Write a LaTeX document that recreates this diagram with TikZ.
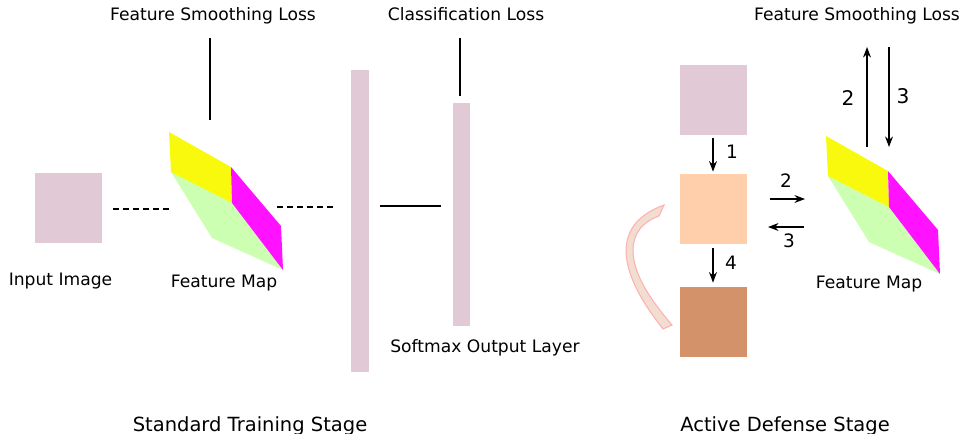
\documentclass[tikz,border=0pt]{standalone}
\usepackage{fontspec}
\setmainfont{DejaVu Sans}
\usetikzlibrary{arrows.meta}

\definecolor{imgpink}{HTML}{E1C9D6}
\definecolor{peach}{HTML}{FFCFAB}
\definecolor{clay}{HTML}{D4926A}
\definecolor{fmyellow}{HTML}{F9F90E}
\definecolor{fmmagenta}{HTML}{FF12FF}
\definecolor{fmgreen}{HTML}{CCFFB2}
\definecolor{swfill}{HTML}{F2DDD0}
\definecolor{swedge}{HTML}{FFB0B0}

\tikzset{
  lbl/.style={font=\fontsize{9.75}{11}\selectfont, anchor=base, inner sep=0},
  num/.style={font=\fontsize{10.5}{12}\selectfont, inner sep=0},
  bignum/.style={font=\fontsize{11.5}{13}\selectfont, inner sep=0},
  stage/.style={font=\fontsize{11.1}{13}\selectfont, anchor=base, inner sep=0},
  sq/.style={minimum width=1.34cm, minimum height=1.4cm, inner sep=0},
  arr/.style={-{Stealth[length=6pt,width=4.5pt]}, line width=0.7pt},
  ln/.style={line width=0.7pt},
  dsh/.style={line width=0.7pt, dash pattern=on 3.4pt off 2.3pt},
}

\begin{document}
\begin{tikzpicture}[x=0.02cm, y=-0.02cm]
    \useasboundingbox (0,0) rectangle (963,433);

    \foreach \n/\dx/\dy in {L/0/0, R/657/4}{
      \begin{scope}[shift={(\dx,\dy)}]
        \coordinate (fm\n-a) at (169,132);
        \coordinate (fm\n-b) at (231,167);
        \coordinate (fm\n-c) at (232,203);
        \coordinate (fm\n-d) at (171,172);
        \coordinate (fm\n-e) at (281,226);
        \coordinate (fm\n-f) at (283,270);
        \coordinate (fm\n-g) at (212,238);
        \fill[fmgreen] (fm\n-d) -- (fm\n-c) -- (fm\n-f) -- (fm\n-g) -- cycle;
        \fill[fmyellow] (fm\n-a) -- (fm\n-b) -- (fm\n-c) -- (fm\n-d) -- cycle;
        \fill[fmmagenta] (fm\n-b) -- (fm\n-e) -- (fm\n-f) -- (fm\n-c) -- cycle;
      \end{scope}
    }

    \node[sq, fill=imgpink] (input) at (68.5,208) {};
    \node[lbl] (inputlbl) at (60.5,285) {Input Image};
    \node[lbl] (fmLlbl) at (224,287.5) {Feature Map};
    \node[lbl] (fslL) at (213,20) {Feature Smoothing Loss};
    \node[lbl] (cls) at (466,20) {Classification Loss};
    \node[lbl] (softlbl) at (485,352) {Softmax Output Layer};
    \node[stage] (stageA) at (250,431) {Standard Training Stage};

    \node[fill=imgpink, minimum width=0.36cm, minimum height=6.04cm, inner sep=0] (fc) at (360,221) {};
    \node[fill=imgpink, minimum width=0.34cm, minimum height=4.46cm, inner sep=0] (soft) at (461.5,214.5) {};

    \coordinate (d1a) at (113,209);
    \coordinate (d1b) at (172,209);
    \coordinate (d2a) at (277,207);
    \coordinate (d2b) at (337,207);
    \coordinate (s1a) at (380,206);
    \coordinate (s1b) at (441,206);
    \coordinate (fslLa) at (210,38);
    \coordinate (fslLb) at (210,120);
    \coordinate (clsa) at (460,38);
    \coordinate (clsb) at (460,96);

    \draw[dsh] (d1a) -- (d1b);
    \draw[dsh] (d2a) -- (d2b);
    \draw[ln] (s1a) -- (s1b);
    \draw[ln] (fslLa) -- (fslLb);
    \draw[ln] (clsa) -- (clsb);

    \node[sq, fill=imgpink] (top) at (713,100) {};
    \node[sq, fill=peach] (mid) at (713,209) {};
    \node[sq, fill=clay] (bot) at (713,322) {};

    \draw[swedge, fill=swfill, line width=0.6pt]
      (664,205) .. controls (640,214) and (626,228) .. (626,252)
      .. controls (627,280) and (648,310) .. (663,329) -- (672,325)
      .. controls (655,305) and (634,278) .. (633,252)
      .. controls (633,232) and (643,222) .. (659,216) -- cycle;

    \draw[arr, shorten <=0.06cm, shorten >=0.04cm] (top) -- (mid);
    \draw[arr, shorten <=0.08cm, shorten >=0.08cm] (mid) -- (bot);
    \node[num] (n1) at (732,152) {1};
    \node[num] (n4) at (731,263) {4};

    \coordinate (h2a) at (770,199);
    \coordinate (h2b) at (805,199);
    \coordinate (h3a) at (804,227);
    \coordinate (h3b) at (768,227);
    \draw[arr] (h2a) -- (h2b);
    \draw[arr] (h3a) -- (h3b);
    \node[num] (nh2) at (786,181) {2};
    \node[num] (nh3) at (789,241) {3};

    \node[lbl] (fslR) at (857,20) {Feature Smoothing Loss};
    \coordinate (v2a) at (867,147);
    \coordinate (v2b) at (867,47);
    \coordinate (v3a) at (889,47);
    \coordinate (v3b) at (889,147);
    \draw[arr] (v2a) -- (v2b);
    \draw[arr] (v3a) -- (v3b);
    \node[bignum] (nv2) at (848,98) {2};
    \node[bignum] (nv3) at (903,96) {3};

    \node[lbl] (fmRlbl) at (869,288) {Feature Map};
    \node[stage] (stageB) at (785,431) {Active Defense Stage};
\end{tikzpicture}
\end{document}
